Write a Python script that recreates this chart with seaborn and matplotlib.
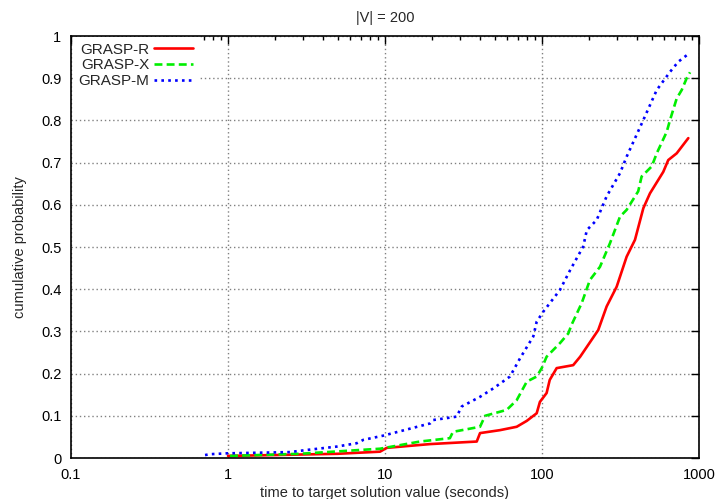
import numpy as np
import pandas as pd
import matplotlib
matplotlib.use('Agg')
import matplotlib.pyplot as plt
import seaborn as sns
from matplotlib.ticker import LogLocator, NullFormatter

# time to target (seconds) and cumulative probability
r_time = [1.0, 1.99, 5.0, 9.3, 10.25, 19.4, 38.4, 40.3, 54, 69, 80, 92.5, 97, 107, 112,
          124, 158, 175, 228, 258, 299, 346, 391, 442, 487, 592, 637, 721, 855]
r_prob = [0.005, 0.007, 0.010, 0.015, 0.024, 0.033, 0.039, 0.059, 0.066, 0.074, 0.088, 0.106,
          0.133, 0.154, 0.185, 0.213, 0.22, 0.24, 0.303, 0.359, 0.406, 0.477, 0.517, 0.592,
          0.627, 0.678, 0.706, 0.722, 0.758]

x_time = [1.03, 2.87, 9.3, 16.7, 25.9, 27.1, 40.3, 43.4, 59.6, 69, 80, 92.5, 99.6, 107, 130,
          147, 154, 179, 202, 234, 271, 314, 346, 410, 431, 500, 538, 623, 654, 721, 776, 835, 877]
x_prob = [0.005, 0.010, 0.022, 0.039, 0.047, 0.062, 0.074, 0.100, 0.114, 0.137, 0.181, 0.193,
          0.213, 0.24, 0.272, 0.295, 0.315, 0.367, 0.422, 0.453, 0.509, 0.572, 0.588, 0.632,
          0.667, 0.691, 0.722, 0.773, 0.801, 0.852, 0.872, 0.900, 0.914]

m_time = [0.714, 0.768, 0.98, 2.48, 3.17, 4.92, 6.6, 7.28, 9.75, 19.4, 20.3, 28.6, 30.8, 40.3,
          49, 62.5, 72.4, 88, 92.5, 102, 130, 151, 183, 193, 223, 258, 314, 346, 442, 538,
          654, 738, 867]
m_prob = [0.007, 0.009, 0.011, 0.014, 0.019, 0.027, 0.035, 0.043, 0.053, 0.082, 0.090, 0.098,
          0.122, 0.145, 0.165, 0.193, 0.236, 0.288, 0.323, 0.347, 0.398, 0.445, 0.501, 0.540,
          0.564, 0.620, 0.675, 0.714, 0.801, 0.872, 0.915, 0.939, 0.959]

methods = ['GRASP-R', 'GRASP-X', 'GRASP-M']
colors = {'GRASP-R': '#ff0000', 'GRASP-X': '#00ee00', 'GRASP-M': '#0000ff'}
dashes = {'GRASP-R': '', 'GRASP-X': (3, 1.6), 'GRASP-M': (1, 1.6)}

df = pd.concat([
    pd.DataFrame({'time': r_time, 'prob': r_prob, 'method': 'GRASP-R'}),
    pd.DataFrame({'time': x_time, 'prob': x_prob, 'method': 'GRASP-X'}),
    pd.DataFrame({'time': m_time, 'prob': m_prob, 'method': 'GRASP-M'}),
])

sns.set_style('white')
plt.rcParams['font.family'] = ['Liberation Sans', 'DejaVu Sans']
fs = 10.5

fig = plt.figure(figsize=(7.17, 4.99), dpi=100)
ax = fig.add_axes([71 / 717, 41 / 499, 628 / 717, 422 / 499])

sns.lineplot(data=df, x='time', y='prob', hue='method', style='method',
             hue_order=methods, style_order=methods, palette=colors, dashes=dashes,
             estimator=None, sort=False, linewidth=1.9, ax=ax, legend=True)

ax.set_xscale('log')
ax.set_xlim(0.1, 1000)
ax.set_ylim(0, 1)

ax.set_xticks([0.1, 1, 10, 100, 1000])
ax.set_xticklabels(['0.1', '1', '10', '100', '1000'])
ax.xaxis.set_minor_locator(LogLocator(base=10, subs=np.arange(2, 10)))
ax.xaxis.set_minor_formatter(NullFormatter())
yt = [0, 0.1, 0.2, 0.3, 0.4, 0.5, 0.6, 0.7, 0.8, 0.9, 1]
ax.set_yticks(yt)
ax.set_yticklabels(['0', '0.1', '0.2', '0.3', '0.4', '0.5', '0.6', '0.7', '0.8', '0.9', '1'])

ax.tick_params(which='both', direction='in', top=True, right=True, labelsize=fs,
               colors='black', pad=7)
ax.tick_params(which='major', length=6, width=1)
ax.tick_params(which='minor', length=3, width=1)
for s in ax.spines.values():
    s.set_color('black')
    s.set_linewidth(1.2)

ax.grid(True, which='major', color='#808080', linestyle=(0, (1, 2)), linewidth=1)
ax.set_axisbelow(True)

ax.set_xlabel('time to target solution value (seconds)', fontsize=fs, labelpad=3)
ax.set_ylabel('cumulative probability', fontsize=fs, labelpad=10)
ax.set_title('|V| = 200', fontsize=fs, pad=10)

handles, labels = ax.get_legend_handles_labels()
leg = ax.legend(handles, labels, loc='upper left', frameon=True, markerfirst=False,
                fontsize=fs + 0.5, handlelength=2.6, handletextpad=0.3, labelspacing=0.12,
                borderaxespad=0.0, borderpad=0.35, bbox_to_anchor=(0.003, 0.997),
                fancybox=False, framealpha=1, facecolor='white', edgecolor='none')
leg.set_zorder(2.2)

fig.savefig('out.png', dpi=100, facecolor='white')
